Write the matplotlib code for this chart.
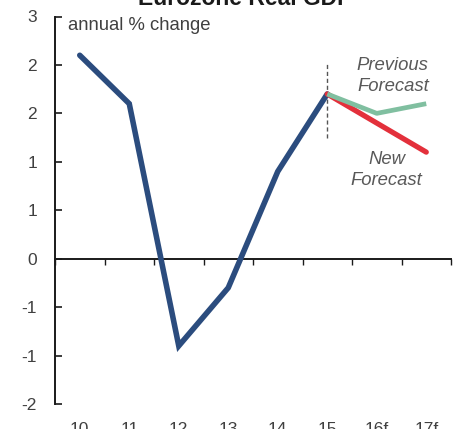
# -*- coding:utf-8 -*-
import matplotlib
matplotlib.use('Agg')
import matplotlib.pyplot as plt
import matplotlib.transforms as mtransforms
import numpy as np

# Chart data
years = ['10', '11', '12', '13', '14', '15', '16f', '17f']
actual = [2.1, 1.6, -0.9, -0.3, 0.9, 1.7]
previous_forecast = [1.7, 1.5, 1.6]
new_forecast = [1.7, 1.4, 1.1]
y_ticks = [-1.5, -1.0, -0.5, 0.0, 0.5, 1.0, 1.5, 2.0, 2.5]
y_tick_labels = ['-2', '-1', '-1', '0', '1', '1', '2', '2', '3']
divider_range = [1.25, 2.02]

plt.rcParams['font.family'] = ['Liberation Sans', 'DejaVu Sans']

fig = plt.figure(figsize=(4.58, 4.29), dpi=100)
ax = fig.add_axes([55 / 458, 25 / 429, 396 / 458, 387.5 / 429])

x = np.arange(len(years))
x_fc = x[len(actual) - 1:]

ax.plot(x[:len(actual)], actual, color='#2b4c7e', lw=4.0,
        solid_capstyle='round', solid_joinstyle='miter', zorder=3)
ax.plot(x_fc, new_forecast, color='#e3303b', lw=3.8,
        solid_capstyle='round', zorder=4)
ax.plot(x_fc, previous_forecast, color='#80bfa0', lw=3.4,
        solid_capstyle='butt', zorder=5)

# vertical dashed marker at last actual year
ax.plot([x[len(actual) - 1]] * 2, divider_range, color='#555555',
        lw=1.0, ls=(0, (3, 2)), zorder=2)

ax.set_xlim(-0.5, len(years) - 0.5)
ax.set_ylim(-1.5, 2.5)

# axes styling
for side in ['top', 'right']:
    ax.spines[side].set_visible(False)
ax.spines['left'].set_linewidth(1.4)
ax.spines['left'].set_color('#1a1a1a')
ax.spines['bottom'].set_position(('data', 0))
ax.spines['bottom'].set_linewidth(1.4)
ax.spines['bottom'].set_color('#1a1a1a')

ax.set_yticks(y_ticks)
ax.set_yticklabels(y_tick_labels)
ax.tick_params(axis='y', direction='in', length=5, width=1.2,
               labelsize=12.5, pad=13, colors='#1a1a1a',
               labelcolor='#404040')

ax.set_xticks(np.arange(len(years) + 1) - 0.5)
ax.set_xticklabels([])
ax.tick_params(axis='x', direction='out', length=4, width=1.0,
               colors='#1a1a1a')

# category labels sit under the plot area (cut by the figure edge)
trans = mtransforms.blended_transform_factory(ax.transData, ax.transAxes)
for xi, lab in zip(x, years):
    ax.text(xi, -0.078, lab, transform=trans, ha='center',
            va='baseline', fontsize=12.5, color='#404040', clip_on=False)

ax.text(13 / 396, 0.964, 'annual % change', transform=ax.transAxes,
        ha='left', va='baseline', fontsize=13.3, color='#404040')

ax.text(7.05, 1.73, 'Previous\nForecast', ha='right', va='baseline',
        fontsize=13.3, style='italic', color='#595959', linespacing=1.3)
ax.text(6.2, 0.76, 'New\nForecast', ha='center', va='baseline',
        fontsize=13.3, style='italic', color='#595959', linespacing=1.3)

fig.text(245 / 458, 1 - 5 / 429, 'Eurozone Real GDP', ha='center',
         va='baseline', fontsize=16.5, fontweight='bold', color='#1a1a1a')

fig.savefig('out.png', dpi=100)
